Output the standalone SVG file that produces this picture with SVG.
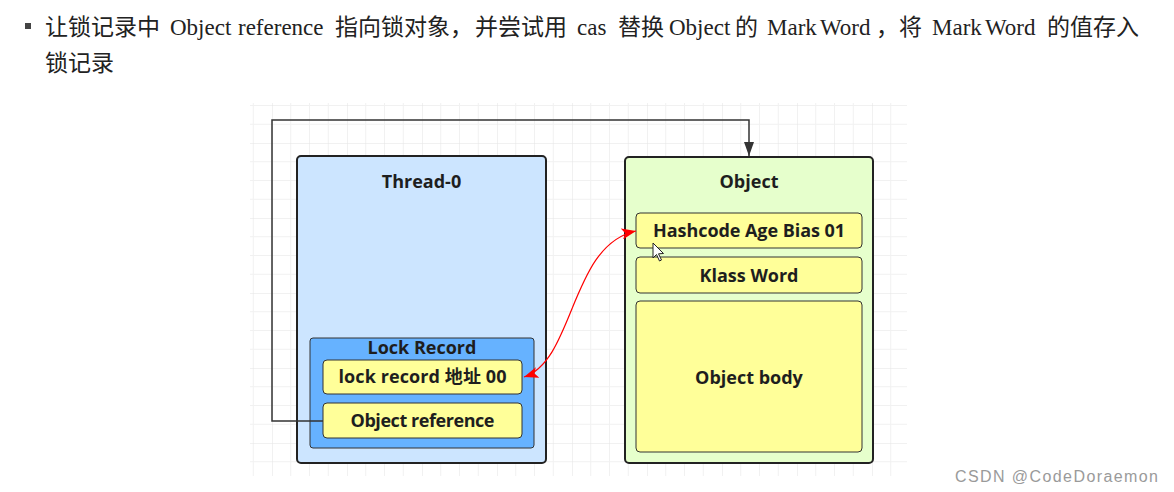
<svg xmlns="http://www.w3.org/2000/svg" width="1174" height="492" viewBox="0 0 1174 492">
  <defs>
    <pattern id="grid" x="197" y="68" width="75" height="75" patternUnits="userSpaceOnUse">
      <path d="M18.75 0V75M37.5 0V75M56.25 0V75M0 18.75H75M0 37.5H75M0 56.25H75" stroke="#f1f1f1" stroke-width="1" fill="none"/>
      <path d="M0 0V75M0 0H75" stroke="#e4e4e4" stroke-width="1" fill="none"/>
    </pattern>
    <marker id="arrowDark" viewBox="0 0 14 10" refX="14" refY="5" markerWidth="14" markerHeight="10" markerUnits="userSpaceOnUse" orient="auto">
      <path d="M0 0L14 5L0 10Z" fill="#333"/>
    </marker>
    <marker id="arrowRed" viewBox="0 0 13 10" refX="13" refY="5" markerWidth="15" markerHeight="11" markerUnits="userSpaceOnUse" orient="auto-start-reverse">
      <path d="M0 0L13 5L0 10L3 5Z" fill="#ff0000"/>
    </marker>
  </defs>
  <style>
    .para { font-family: "Liberation Serif", "Noto Sans CJK SC", serif; font-size: 23px; fill: #222; }
    .cjk { font-family: "Noto Sans CJK SC", sans-serif; font-size: 23px; }
    .lbl { font-family: "Open Sans", "Noto Sans CJK SC", sans-serif; font-weight: bold; font-size: 18px; fill: #1e1e1e; text-anchor: middle; }
    .outer { stroke: #222; stroke-width: 2; }
    .inner { stroke: #333; stroke-width: 1; fill: #ffff99; }
    .wm { font-family: "Liberation Sans", Arial, sans-serif; font-size: 16px; fill: #9a9a9a; }
  </style>
  <rect width="1174" height="492" fill="#ffffff"/>

  <g id="paragraph">
    <rect x="25" y="23" width="6" height="6" fill="#444"/>
    <text class="para" y="35"><tspan class="cjk" x="45">让锁记录中</tspan><tspan x="170">Object</tspan><tspan x="238">reference</tspan><tspan class="cjk" x="335">指向锁对象，</tspan><tspan class="cjk" x="475">并尝试用</tspan><tspan x="577">cas</tspan><tspan class="cjk" x="618">替换</tspan><tspan x="669">Object</tspan><tspan class="cjk" x="735">的</tspan><tspan x="767">Mark</tspan><tspan x="820">Word</tspan><tspan class="cjk" x="876">，将</tspan><tspan x="932">Mark</tspan><tspan x="985">Word</tspan><tspan class="cjk" x="1047">的值存入</tspan></text>
    <text class="para" y="71"><tspan class="cjk" x="45">锁记录</tspan></text>
  </g>

  <rect x="250" y="103" width="657" height="373" fill="url(#grid)"/>

  <g id="thread0">
    <rect class="outer" x="297" y="156" width="249" height="307" rx="4" fill="#cce5ff"/>
    <text class="lbl" x="421.5" y="188" font-size="18.5">Thread-0</text>
  </g>

  <g id="lockRecord">
    <rect x="310" y="338" width="224" height="110" rx="3" fill="#66b2ff" stroke="#333" stroke-width="1"/>
    <text class="lbl" x="422" y="354" font-size="17.5">Lock Record</text>
  </g>

  <g id="lockRecordAddr">
    <rect class="inner" x="323" y="360" width="199" height="34" rx="4"/>
    <text class="lbl" x="422.5" y="383" textLength="168">lock  record 地址 00</text>
  </g>

  <g id="objectReference">
    <rect class="inner" x="323" y="403" width="199" height="35" rx="4"/>
    <text class="lbl" x="422.5" y="427" textLength="144">Object reference</text>
  </g>

  <g id="object">
    <rect class="outer" x="625" y="157" width="248" height="306" rx="4" fill="#e6ffcc"/>
    <text class="lbl" x="749" y="188" font-size="18.5">Object</text>
  </g>

  <g id="markWord">
    <rect class="inner" x="636" y="213" width="226" height="35" rx="4"/>
    <text class="lbl" x="749" y="237" textLength="192">Hashcode Age Bias 01</text>
  </g>

  <g id="klassWord">
    <rect class="inner" x="636" y="257" width="226" height="36" rx="4"/>
    <text class="lbl" x="749" y="282">Klass Word</text>
  </g>

  <g id="objectBody">
    <rect class="inner" x="636" y="301" width="226" height="151" rx="4"/>
    <text class="lbl" x="749" y="384">Object body</text>
  </g>

  <g id="connectors">
    <path d="M323 421H272V120H749V156" fill="none" stroke="#333" stroke-width="1.5" marker-end="url(#arrowDark)"/>
    <path d="M524 377C575 360 570 245 636 231" fill="none" stroke="#ff0000" stroke-width="1.2" marker-start="url(#arrowRed)" marker-end="url(#arrowRed)"/>
  </g>

  <path d="M653 243L653 258L656.5 254.5L659.5 261L661.5 260L658.5 253.8L663.5 253.5Z" fill="#ffffff" stroke="#222" stroke-width="1"/>

  <text class="wm" x="955" y="482" textLength="203">CSDN @CodeDoraemon</text>
</svg>
